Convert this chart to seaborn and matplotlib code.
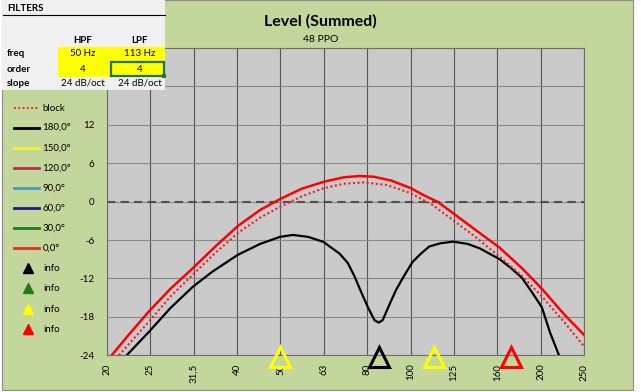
import numpy as np
import pandas as pd
import matplotlib
matplotlib.use("Agg")
import matplotlib.pyplot as plt
import seaborn as sns
from matplotlib.patches import Rectangle
from matplotlib.ticker import NullLocator

plt.rcParams['font.family'] = ['Lato', 'DejaVu Sans']

# ---------------- data ----------------
tick_labels = ["20", "25", "31,5", "40", "50", "63", "80", "100", "125", "160", "200", "250"]
y_ticks = [-24, -18, -12, -6, 0, 6, 12, 18, 24]
y_tick_labels = ["-24", "-18", "-12", "-6", "0", "6", "12", "", ""]  # 18 / 24 hidden by the table

freq_0deg = [20, 20.5, 22.5, 25, 28, 31.5, 35.5, 40, 45, 50, 56, 63, 70, 76, 82, 90,
             100, 107, 115, 125, 140, 160, 180, 200, 225, 250]
level_0deg = [-24.9, -24.0, -20.7, -17.1, -13.6, -10.4, -7.0, -3.8, -1.3, 0.4, 2.0, 3.1, 3.8, 4.0, 3.9, 3.3,
              2.1, 1.0, 0.0, -1.8, -4.3, -7.2, -10.4, -13.6, -17.6, -20.8]

freq_block = [20, 21.3, 25, 28, 31.5, 35.5, 40, 45, 50, 56, 63, 70, 78, 88,
              100, 112, 125, 140, 160, 180, 200, 225, 250]
level_block = [-26.2, -24.0, -18.7, -14.8, -11.4, -8.0, -4.9, -2.5, -0.8, 0.8, 2.1, 2.8, 3.0, 2.6,
               1.3, -0.5, -2.9, -5.4, -8.6, -11.6, -14.8, -18.8, -22.6]

freq_180deg = [20, 22.2, 25, 28, 31.5, 35, 40, 45, 50, 53.5, 58, 63, 65, 68.5, 71.6, 74.2,
               76.8, 79.5, 82.4, 84.3, 86.1, 89.2, 92.4, 96.6, 100.9, 105.5, 110.2, 117,
               125, 135, 144, 160, 170, 180, 190, 200, 209, 219, 230]
level_180deg = [-27.5, -24.0, -20.3, -16.6, -13.3, -10.9, -8.3, -6.6, -5.5, -5.2, -5.5, -6.3, -7.0, -8.1, -9.6, -11.7,
                -14.1, -16.4, -18.5, -18.9, -18.5, -16.1, -13.8, -11.5, -9.4, -8.1, -7.0, -6.5,
                -6.25, -6.6, -7.3, -9.0, -10.4, -11.9, -14.2, -16.5, -20.5, -24.0, -28.0]

info_freqs = [50, 84.5, 113, 170]
info_colors = ["#ffff00", "#000000", "#ffff00", "#ff0000"]

legend_labels = ["block", "180,0°", "150,0°", "120,0°", "90,0°", "60,0°", "30,0°", "0,0°"]
legend_colors = ["#ff2020", "#000000", "#f2ef3c", "#c0304f", "#3a9cc4", "#1c1c8c", "#1e7b1e", "#e0301e"]
info_legend_colors = ["#000000", "#1e7b1e", "#ffff00", "#ff0000"]

filter_rows = ["freq", "order", "slope"]
hpf_values = ["50 Hz", "4", "24 dB/oct"]
lpf_values = ["113 Hz", "4", "24 dB/oct"]

# ---------------- figure ----------------
W, H = 641, 392
fig = plt.figure(figsize=(W / 100, H / 100), dpi=100)
fig.patch.set_facecolor("white")

bg = fig.add_axes([0, 0, 1, 1], zorder=0)
bg.set_xlim(0, W)
bg.set_ylim(H, 0)
bg.axis("off")
bg.add_patch(Rectangle((2, 0), 631, 390, fc="#c3d69b", ec="#8c8c8c", lw=0.8))

ax = fig.add_axes([107 / W, 1 - 355.3 / H, (584 - 107) / W, (355.3 - 48) / H], zorder=1)
ax.set_facecolor("#cacaca")
ax.set_xscale("log")
ax.set_xlim(20, 250)
ax.set_ylim(-24, 24)
xt = np.geomspace(20, 250, 12)
ax.set_xticks(xt)
ax.set_xticklabels(tick_labels, rotation=90)
ax.xaxis.set_minor_locator(NullLocator())
ax.set_yticks(y_ticks)
ax.set_yticklabels(y_tick_labels)
ax.tick_params(axis="both", length=0, labelsize=7, colors="black")
ax.tick_params(axis="y", pad=9)
ax.tick_params(axis="x", pad=6)
ax.grid(axis="x", color="#555555", lw=0.8)
ax.grid(axis="y", color="#8a8a8a", lw=0.8)
ax.set_axisbelow(True)
for s in ax.spines.values():
    s.set_color("#707070")
    s.set_linewidth(0.8)

ax.axhline(0, color="#505050", lw=1.5, dashes=(4, 2.5), zorder=2)

df0 = pd.DataFrame({"f": freq_0deg, "dB": level_0deg})
dfb = pd.DataFrame({"f": freq_block, "dB": level_block})
df180 = pd.DataFrame({"f": freq_180deg, "dB": level_180deg})

sns.lineplot(data=df180, x="f", y="dB", ax=ax, color="#000000", lw=1.6, zorder=3)
sns.lineplot(data=dfb, x="f", y="dB", ax=ax, color="#e8202a", lw=1.5,
             linestyle=(0, (1, 1.2)), zorder=4)
sns.lineplot(data=df0, x="f", y="dB", ax=ax, color="#ff0000", lw=1.8, zorder=5)
ax.set_xlabel("")
ax.set_ylabel("")
ax.set_xlim(20, 250)
ax.set_ylim(-24, 24)

for f, c in zip(info_freqs, info_colors):
    ax.plot([f], [-24.3], marker="^", ms=14, mfc="none", mec=c, mew=2.2,
            clip_on=False, zorder=6, ls="none")

fig.text(0.5, 1 - 21 / H, "Level (Summed)", ha="center", va="center",
         fontsize=11.5, fontweight="bold")
fig.text(0.5, 1 - 40 / H, "48 PPO", ha="center", va="center", fontsize=7.5)

# ---------------- overlay: table + legend ----------------
ov = fig.add_axes([0, 0, 1, 1], zorder=5)
ov.set_xlim(0, W)
ov.set_ylim(H, 0)
ov.axis("off")
ov.patch.set_alpha(0)

ov.add_patch(Rectangle((2, 0), 163, 90, fc="#f0f0f0", ec="none"))
ov.plot([3, 165], [15, 15], color="black", lw=0.8)
ov.add_patch(Rectangle((58, 46.5), 107, 30.5, fc="#ffff00", ec="none"))
ov.add_patch(Rectangle((110.5, 62), 53.5, 14, fc="none", ec="#217346", lw=1.6))
ov.add_patch(Rectangle((161.5, 74), 4, 4, fc="#217346", ec="none"))

fs = 7
ov.text(7, 8, "FILTERS", ha="left", va="center", fontsize=fs, fontweight="bold")
ov.text(83, 40, "HPF", ha="center", va="center", fontsize=fs, fontweight="bold")
ov.text(140, 40, "LPF", ha="center", va="center", fontsize=fs, fontweight="bold")
for i, (r, h, l) in enumerate(zip(filter_rows, hpf_values, lpf_values)):
    yy = [53, 69, 83][i]
    ov.text(7, yy, r, ha="left", va="center", fontsize=fs, fontweight="bold")
    ov.text(83, yy, h, ha="center", va="center", fontsize=fs)
    ov.text(140, yy, l, ha="center", va="center", fontsize=fs)

leg_y = [108, 127.5, 148.3, 168.3, 188.3, 208.3, 228.3, 248.3]
for i, (lab, col, yy) in enumerate(zip(legend_labels, legend_colors, leg_y)):
    if i == 0:
        ov.plot([14, 39], [yy, yy], color=col, lw=1.4, ls=(0, (1, 1.2)))
    else:
        ov.plot([14, 39], [yy, yy], color=col, lw=2.0)
    ov.text(42.5, yy, lab, ha="left", va="center", fontsize=fs)

info_y = [268.3, 288.3, 309.3, 329.3]
for col, yy in zip(info_legend_colors, info_y):
    ov.plot([27.5], [yy], marker="^", ms=6.5, color=col, ls="none")
    ov.text(43, yy, "info", ha="left", va="center", fontsize=fs)

fig.savefig("out.png", dpi=100, facecolor=fig.get_facecolor())
